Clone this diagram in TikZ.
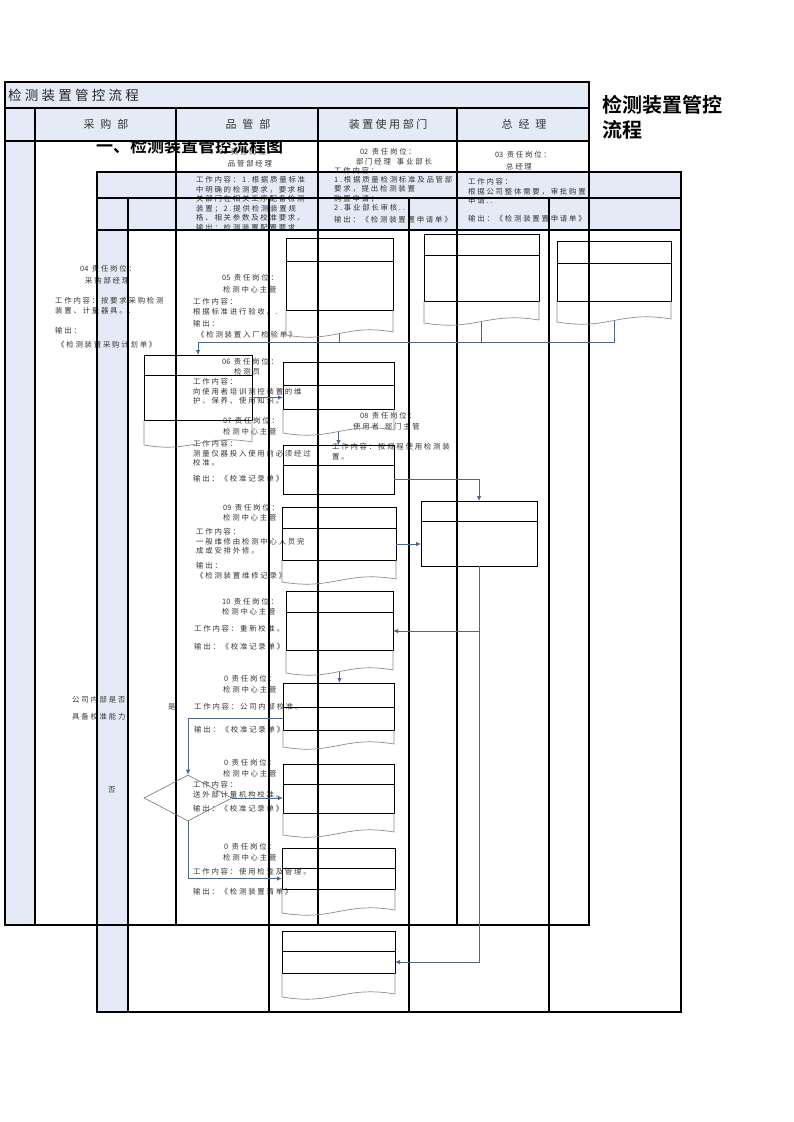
\documentclass[tikz,border=0pt]{standalone}
\usepackage{fontspec}
\usetikzlibrary{arrows.meta,calc,shapes.geometric}
\newfontfamily\cjk[LetterSpace=24]{Noto Sans CJK SC}
\newfontfamily\cjkplain{Noto Sans CJK SC}
\newfontfamily\cjkb{Noto Sans CJK SC Bold}
\definecolor{lanebg}{RGB}{228,235,246}
\definecolor{flowc}{RGB}{74,104,142}
\newcommand{\stepno}[1]{{\cjkplain #1}}

% box with a top row, placed by its top left corner
\newcommand{\procbox}[6]{%
  \node[procnode, minimum width=#4pt, minimum height=#5pt, anchor=north west] (#1) at (#2,#3) {};
  \path ([yshift=-#6pt]#1.north west) coordinate (#1tl) ([yshift=-#6pt]#1.north east) coordinate (#1tr);
  \draw[boxline] (#1tl) -- (#1tr);
  \coordinate (#1c) at ($(#1tl)!0.5!(#1tr)!0.5!(#1.south)$);
  \coordinate (#1e) at (#1c -| #1.east);
  \coordinate (#1w) at (#1c -| #1.west);
}
% grey document tail under a box
\newcommand{\doctail}[2]{%
  \coordinate (#1l) at ($(#1.south west)+(0,#2)$);
  \coordinate (#1r) at ($(#1.south east)+(0,#2-3)$);
  \coordinate (#1d) at ($(#1.south)+(0,#2-1)$);
  \draw[docline] (#1.south west) -- (#1l) .. controls ($(#1l)!0.45!(#1r)+(0,10)$) and ($(#1l)!0.55!(#1r)+(0,-10)$) .. (#1r) -- (#1.south east);
}

\begin{document}
\begin{tikzpicture}[x=1pt,y=-1pt]
	\tikzset{txt/.style = {font=\cjk\fontsize{7.4}{9.6}\selectfont, text=black!80, inner sep=0pt, anchor=west}}
	\tikzset{ctxt/.style = {txt, anchor=center}}
	\tikzset{block/.style = {txt, align=left, anchor=north west}}
	\tikzset{lanehead/.style = {font=\cjkplain\fontsize{11}{12}\selectfont, text=black!80, inner sep=0pt}}
	\tikzset{grid/.style = {draw=black, line width=1.1pt}}
	\tikzset{procnode/.style = {rectangle, draw=black, line width=1pt, inner sep=0pt, outer sep=0pt}}
	\tikzset{boxline/.style = {draw=black, line width=1pt}}
	\tikzset{docline/.style = {draw=black!45, line width=0.7pt}}
	\tikzset{decision/.style = {diamond, draw=black!55, line width=0.6pt, minimum width=88pt, minimum height=46pt, inner sep=0pt}}
	\tikzset{flow/.style = {->, >={Latex[length=5pt,width=4.5pt]}, draw=flowc, line width=0.8pt}}
	\tikzset{flowline/.style = {draw=flowc, line width=0.8pt}}
	\useasboundingbox (0,0) rectangle (793,1122);

	% back table fills
	\fill[lanebg] (97,172) rectangle (681,230);
	\fill[lanebg] (97,230) rectangle (128,1012);

	% step texts
	\node[ctxt] (t01a) at (247,152) {\stepno{01} 责任岗位：};
	\node[ctxt] (t01b) at (250,164) {品管部经理};
	\node[block] (t01c) at (196,176) {工作内容：1.根据质量标准\\中明确的检测要求，要求相\\关部门在相关工序配备检测\\装置；2.提供检测装置规\\格、相关参数及校准要求。\\输出：检测装置配置要求};

	\node[ctxt] (t02a) at (388,152) {\stepno{02} 责任岗位：};
	\node[ctxt] (t02b) at (394,162) {部门经理\hspace{6pt}事业部长};
	\node[block, font=\cjk\fontsize{7.4}{9.2}\selectfont] (t02c) at (334,167) {工作内容：\\1.根据质量检测标准及品管部\\要求，提出检测装置\\购置申请；\\2.事业部长审核..};
	\node[txt] (t02d) at (334,220) {输出：《检测装置置申请单》};

	\node[ctxt] (t03a) at (523,155) {\stepno{03} 责任岗位：};
	\node[ctxt] (t03b) at (519,167) {总经理};
	\node[block] (t03c) at (468,178) {工作内容：\\根据公司整体需要，审批购置\\申请..};
	\node[txt] (t03d) at (468,219) {输出：《检测装置置申请单》};

	\node[txt] (t04a) at (80,269) {\stepno{04} 责任岗位：};
	\node[txt] (t04b) at (85,281) {采购部经理};
	\node[block] (t04c) at (55,297) {工作内容：按要求采购检测\\装置、计量器具。.};
	\node[txt] (t04d) at (55,331) {输出：};
	\node[txt] (t04e) at (57,345) {《检测装置采购计划单》};

	\node[txt] (t05a) at (222,278) {\stepno{05} 责任岗位：};
	\node[txt] (t05b) at (223,290) {检测中心主管};
	\node[block] (t05c) at (193,298) {工作内容：\\根据标准进行验收。.};
	\node[txt] (t05d) at (193,324) {输出：};
	\node[txt] (t05e) at (197,335) {《检测装置入厂检验单》};

	\node[txt] (t06a) at (222,362) {\stepno{06} 责任岗位：};
	\node[txt] (t06b) at (234,372) {检测员};
	\node[block] (t06c) at (193,378) {工作内容：\\向使用者培训测控装置的维\\护、保养、使用知识。};

	\node[txt] (t07a) at (223,421) {\stepno{07} 责任岗位：};
	\node[txt] (t07b) at (223,432) {检测中心主管};
	\node[block] (t07c) at (193,440) {工作内容：\\测量仪器投入使用前必须经过\\校准。};
	\node[txt] (t07d) at (193,479) {输出：《校准记录单》};

	\node[txt] (t08a) at (360,416) {\stepno{08} 责任岗位：};
	\node[txt] (t08b) at (353,427) {使用者\hspace{6pt}部门主管};
	\node[block] (t08c) at (332,443) {工作内容：按规程使用检测装\\置。};

	\node[txt] (t09a) at (223,508) {\stepno{09} 责任岗位：};
	\node[txt] (t09b) at (223,518) {检测中心主管};
	\node[block] (t09c) at (196,528) {工作内容：\\一般维修由检测中心人员完\\成或安排外修。};
	\node[block] (t09d) at (196,562) {输出：\\《检测装置维修记录》};

	\node[txt] (t10a) at (222,602) {\stepno{10} 责任岗位：};
	\node[txt] (t10b) at (222,612) {检测中心主管};
	\node[txt] (t10c) at (194,629) {工作内容：重新校准。};
	\node[txt] (t10d) at (194,647) {输出：《校准记录单》};

	\node[txt] (t11a) at (224,679) {\stepno{0} 责任岗位：};
	\node[txt] (t11b) at (223,690) {检测中心主管};
	\node[txt] (t11c) at (194,707) {工作内容：公司内部校准。};
	\node[txt] (t11d) at (194,730) {输出：《校准记录单》};

	\node[txt] (t12a) at (224,763) {\stepno{0} 责任岗位：};
	\node[txt] (t12b) at (223,774) {检测中心主管};
	\node[block] (t12c) at (193,781) {工作内容：\\送外部计量机构校准。};
	\node[txt] (t12d) at (193,809) {输出：《校准记录单》};

	\node[txt] (t13a) at (224,847) {\stepno{0} 责任岗位：};
	\node[txt] (t13b) at (223,858) {检测中心主管};
	\node[txt] (t13c) at (193,872) {工作内容：使用检查及管理。};
	\node[txt] (t13d) at (193,892) {输出：《检测装置清单》};

	\node[txt] (askA) at (72,700) {公司内部是否};
	\node[txt] (askB) at (72,717) {具备校准能力};
	\node[txt] (yes) at (168,707) {是};
	\node[txt] (no) at (108,790) {否};

	% heading, partly under the front header
	\node[font=\cjkb\fontsize{17}{17}\selectfont, anchor=west, inner sep=0pt] (heading) at (96,146.5) {一、检测装置管控流程图};

	% front table fills and headers
	\fill[lanebg] (5,82) rectangle (589,141);
	\fill[lanebg] (5,141) rectangle (35,925);
	\node[font=\cjk\fontsize{13.5}{14}\selectfont, text=black!85, anchor=west, inner sep=0pt] (title) at (8,95) {检测装置管控流程};
	\node[lanehead] (hbuy) at (106,124) {采\hspace{6pt}购\hspace{6pt}部};
	\node[lanehead] (hqc) at (248,124) {品\hspace{6pt}管\hspace{6pt}部};
	\node[lanehead] (huse) at (388,124) {装\hspace{2.5pt}置\hspace{2.5pt}使\hspace{2.5pt}用\hspace{2.5pt}部\hspace{2.5pt}门};
	\node[lanehead] (hgm) at (524,124) {总\hspace{6pt}经\hspace{6pt}理};

	% front table lines
	\draw[grid] (5,82) rectangle (589,925);
	\draw[grid] (5,108) -- (589,108) (5,141) -- (589,141);
	\draw[grid] (35,108) -- (35,925) (176,108) -- (176,925) (318,108) -- (318,925) (457,108) -- (457,925);

	% back table lines
	\draw[grid] (97,172) rectangle (681,1012);
	\draw[grid] (97,198) -- (681,198) (97,230) -- (681,230);
	\draw[grid] (128,198) -- (128,1012) (269,198) -- (269,1012) (409,198) -- (409,1012) (549,198) -- (549,1012);

	% boxes
	\procbox{b1}{286}{238}{107}{72}{23}   \doctail{b1}{25}
	\procbox{b2}{424}{234}{115}{67}{21}   \doctail{b2}{22}
	\procbox{b3}{557}{241}{114}{60}{22}   \doctail{b3}{21}
	\procbox{b4}{144}{355}{108}{65}{20}   \doctail{b4}{25}
	\procbox{b5}{283}{362}{111}{47}{23}   \doctail{b5}{24}
	\procbox{b6}{283}{445}{111}{49}{20}
	\procbox{b7}{282}{507}{114}{53}{21}   \doctail{b7}{22}
	\procbox{b8}{421}{501}{116}{65}{20}
	\procbox{b9}{286}{591}{107}{59}{21}   \doctail{b9}{23}
	\procbox{b10}{283}{683}{111}{47}{24}  \doctail{b10}{17}
	\procbox{b11}{283}{764}{111}{49}{20}  \doctail{b11}{22}
	\procbox{b12}{282}{848}{113}{41}{20}  \doctail{b12}{24}
	\procbox{b13}{282}{931}{113}{42}{20}  \doctail{b13}{24}
	\node[decision] (dia) at (188,798) {};

	% connectors
	\coordinate (j1) at ($(b4.north)+(0,-13)$);
	\draw[flowline] (b1d) -- (b1d |- j1);
	\draw[flowline] (b2d) -- (b2d |- j1);
	\draw[flow] (b3d) |- (j1) -- (b4.north);
	\draw[flow] (b4e) -- (b4e -| b5.west);
	\draw[flow] (b5d) -- (b5d |- b6.north);
	\draw[flow] (b6e) -| (b8.north);
	\draw[flow] (b7e) -- (b7e -| b8.west);
	\draw[flow] (b8.south) |- (b9e);
	\draw[flow] (b8.south) |- (b13e);
	\draw[flow] (b9d) -- (b9d |- b10.north);
	\draw[flow] (b10w) -| (dia.north);
	\draw[flow] (dia.east) -- (dia.east -| b11.west);
	\draw[flow] (dia.south) |- (b12w);

	% side title
	\node[font=\cjkb\fontsize{20}{25}\selectfont, align=left, anchor=north west, inner sep=0pt] (sidetitle) at (602,95) {检测装置管控\\流程};
\end{tikzpicture}
\end{document}
